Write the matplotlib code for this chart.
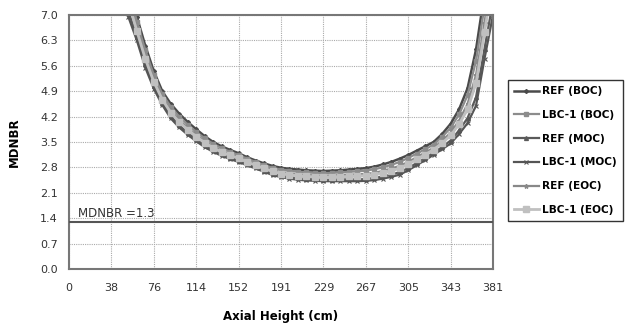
import matplotlib
matplotlib.use("Agg")
import matplotlib.pyplot as plt

axial = [45.72, 53.34, 60.96, 68.58, 76.2, 83.82, 91.44, 99.06, 106.68, 114.3,
         121.92, 129.54, 137.16, 144.78, 152.4, 160.02, 167.64, 175.26, 182.88, 190.5,
         198.12, 205.74, 213.36, 220.98, 228.6, 236.22, 243.84, 251.46, 259.08, 266.7,
         274.32, 281.94, 289.56, 297.18, 304.8, 312.42, 320.04, 327.66, 335.28, 342.9,
         350.52, 358.14, 365.76, 373.38, 381.0]

ref_boc = [9.2, 8.0, 6.95, 6.15, 5.45, 4.9, 4.55, 4.28, 4.05, 3.85,
           3.66, 3.5, 3.38, 3.28, 3.19, 3.08, 2.99, 2.91, 2.84, 2.79,
           2.76, 2.74, 2.72, 2.71, 2.70, 2.71, 2.72, 2.74, 2.76, 2.78,
           2.82, 2.88, 2.95, 3.04, 3.14, 3.26, 3.38, 3.5, 3.72, 4.0,
           4.4, 4.98, 6.05, 7.6, 9.5]
lbc_boc = [8.92, 7.79, 6.82, 6.03, 5.35, 4.82, 4.47, 4.20, 3.98, 3.78,
           3.60, 3.45, 3.33, 3.23, 3.14, 3.04, 2.95, 2.86, 2.79, 2.74,
           2.71, 2.68, 2.66, 2.65, 2.64, 2.65, 2.66, 2.68, 2.69, 2.71,
           2.75, 2.80, 2.87, 2.95, 3.06, 3.18, 3.30, 3.43, 3.64, 3.89,
           4.26, 4.79, 5.74, 7.24, 9.0]
ref_moc = [8.01, 7.11, 6.40, 5.64, 5.04, 4.58, 4.21, 3.96, 3.75, 3.57,
           3.41, 3.27, 3.16, 3.07, 2.99, 2.89, 2.80, 2.71, 2.63, 2.57,
           2.53, 2.50, 2.48, 2.47, 2.46, 2.46, 2.47, 2.47, 2.47, 2.48,
           2.51, 2.55, 2.60, 2.67, 2.78, 2.92, 3.06, 3.20, 3.36, 3.54,
           3.82, 4.16, 4.73, 6.07, 7.38]
lbc_moc = [7.8, 6.95, 6.3, 5.55, 4.97, 4.52, 4.15, 3.9, 3.7, 3.52,
           3.36, 3.23, 3.12, 3.03, 2.95, 2.86, 2.77, 2.68, 2.59, 2.53,
           2.49, 2.46, 2.44, 2.43, 2.42, 2.42, 2.42, 2.42, 2.42, 2.43,
           2.45, 2.49, 2.54, 2.6, 2.72, 2.86, 3.0, 3.15, 3.3, 3.46,
           3.72, 4.02, 4.5, 5.8, 7.0]
ref_eoc = [8.57, 7.53, 6.66, 5.88, 5.23, 4.73, 4.37, 4.11, 3.89, 3.70,
           3.53, 3.38, 3.26, 3.17, 3.08, 2.98, 2.89, 2.81, 2.73, 2.67,
           2.64, 2.61, 2.59, 2.58, 2.57, 2.58, 2.59, 2.60, 2.61, 2.62,
           2.65, 2.70, 2.77, 2.84, 2.95, 3.08, 3.21, 3.34, 3.53, 3.76,
           4.09, 4.55, 5.35, 6.79, 8.38]
lbc_eoc = [8.36, 7.37, 6.56, 5.79, 5.16, 4.67, 4.31, 4.05, 3.84, 3.65,
           3.48, 3.34, 3.22, 3.13, 3.05, 2.95, 2.86, 2.77, 2.69, 2.63,
           2.60, 2.57, 2.55, 2.54, 2.53, 2.54, 2.54, 2.55, 2.56, 2.57,
           2.60, 2.65, 2.70, 2.78, 2.89, 3.02, 3.15, 3.29, 3.47, 3.68,
           3.99, 4.40, 5.12, 6.52, 8.0]

x_ticks = [0, 38.1, 76.2, 114.3, 152.4, 190.5, 228.6, 266.7, 304.8, 342.9, 381]
x_tick_labels = ["0", "38", "76", "114", "152", "191", "229", "267", "305", "343", "381"]
y_ticks = [0.0, 0.7, 1.4, 2.1, 2.8, 3.5, 4.2, 4.9, 5.6, 6.3, 7.0]
mdnbr_limit = 1.3

series = [
    ("REF (BOC)", ref_boc, dict(color="#4a4a4a", marker="D", ms=2.0, lw=1.8)),
    ("LBC-1 (BOC)", lbc_boc, dict(color="#8c8c8c", marker="s", ms=3.2, lw=1.6)),
    ("REF (MOC)", ref_moc, dict(color="#5a5a5a", marker="^", ms=2.8, lw=1.6)),
    ("LBC-1 (MOC)", lbc_moc, dict(color="#555555", marker="x", ms=3.0, lw=1.6, mew=0.8)),
    ("REF (EOC)", ref_eoc, dict(color="#888888", marker="*", ms=3.2, lw=1.6)),
    ("LBC-1 (EOC)", lbc_eoc, dict(color="#c0c0c0", marker="s", ms=4.0, lw=2.0)),
]

fig = plt.figure(figsize=(6.29, 3.29), dpi=100)
ax = fig.add_axes([69/629, 1 - 269/329, (493-69)/629, (269-15)/329])

for label, vals, st in series:
    ax.plot(axial, vals, label=label, **st)

ax.axhline(mdnbr_limit, color="#555555", lw=1.5, zorder=3)
ax.text(8, mdnbr_limit + 0.06, "MDNBR =1.3", fontsize=8.5, color="#333333",
        ha="left", va="bottom")

ax.set_xlim(0, 381)
ax.set_ylim(0, 7.0)
ax.set_xticks(x_ticks)
ax.set_xticklabels(x_tick_labels)
ax.set_yticks(y_ticks)
ax.set_yticklabels([f"{v:.1f}" for v in y_ticks])
ax.tick_params(length=0, labelsize=8, colors="#333333", pad=10)
ax.tick_params(axis="y", pad=8)
ax.grid(True, color="#aaaaaa", linestyle=(0, (1, 1)), lw=0.8)
for s in ax.spines.values():
    s.set_color("#777777")
    s.set_linewidth(1.5)

ax.set_xlabel("Axial Height (cm)", fontsize=8.5, fontweight="bold", labelpad=12)
ax.set_ylabel("MDNBR", fontsize=8.5, fontweight="bold", labelpad=14)

leg = ax.legend(loc="upper left", bbox_to_anchor=(508/629, 1 - 80/329),
                bbox_transform=fig.transFigure, frameon=True, fancybox=False,
                edgecolor="black", handlelength=2.3,
                labelspacing=1.3, borderpad=0.6, handletextpad=0.3,
                borderaxespad=0.0,
                prop={"weight": "bold", "size": 7.6})
leg.get_frame().set_linewidth(1.0)

fig.savefig("out.png", dpi=100)
